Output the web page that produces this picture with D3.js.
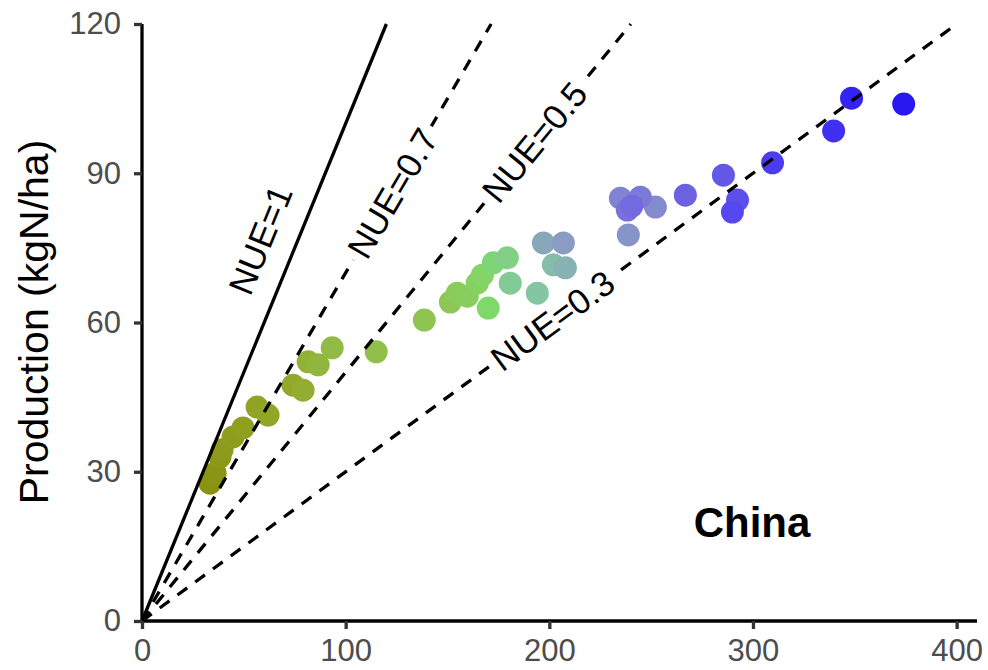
<!DOCTYPE html>
<html>
<head>
<meta charset="utf-8">
<script src="https://cdn.jsdelivr.net/npm/d3@7"></script>
<style>
  body { margin: 0; background: #fff; }
  text { font-family: "Liberation Sans", Arial, sans-serif; }
</style>
</head>
<body>
<script>
//fertilizer input (kgN/ha), roughly in time order
var fert = [33.4, 35.9, 38.3, 39.3, 44.7, 49.6, 56.5, 61.9, 74.2, 79.1, 81.6, 86.5, 93.4,
            115.0, 138.6, 151.4, 154.8, 159.7, 164.6, 167.1, 170.0, 172.5, 179.4, 180.8,
            194.1, 202.0, 207.9, 197.1, 206.9, 238.8, 252.1, 234.9, 244.7, 238.3, 240.5,
            266.8, 285.5, 292.4, 289.9, 309.6, 339.6, 348.4, 374.0];
//production (kgN/ha)
var prod = [27.7, 29.7, 33.0, 34.4, 37.0, 38.8, 43.0, 41.4, 47.4, 46.4, 52.1, 51.5, 54.9,
            54.1, 60.5, 64.1, 65.9, 65.3, 67.9, 69.5, 62.9, 72.0, 73.0, 67.9,
            65.9, 71.6, 71.0, 76.0, 76.0, 77.6, 83.2, 85.0, 85.2, 82.6, 83.4,
            85.6, 89.6, 84.6, 82.2, 92.1, 98.5, 105.1, 103.9];

//NUE reference lines
var nue = [1, 0.7, 0.5, 0.3];
var nueLabels = ["NUE=1", "NUE=0.7", "NUE=0.5", "NUE=0.3"];
var labelAt = [[58, 76.6], [122.9, 86.0], [192.6, 96.3], [201.5, 60.45]];

var xTicks = [0, 100, 200, 300, 400];
var yTicks = [0, 30, 60, 90, 120];

setChart();

function setChart() {

  var width = 988,
      height = 670;

  var svg = d3.select("body")
        .append("svg")
        .attr("width", width)
        .attr("height", height);

  var x = d3.scaleLinear().domain([0, 410]).range([142, 977]);
  var y = d3.scaleLinear().domain([0, 120]).range([621, 24]);

  //colour goes from olive through green and grey to blue over time
  var n = fert.length;
  var color = d3.scaleLinear()
        .domain([0, 8, 14, 20, 24, 28, 33, 38, n - 1])
        .range(["#8a9212", "#92a82a", "#90c452", "#7fd86a", "#84c6a2", "#8a9cc2", "#7a72dc", "#5648ee", "#2a18f2"])
        .interpolate(d3.interpolateRgb);

  //points
  svg.selectAll(".pt")
        .data(fert)
        .enter()
        .append("circle")
        .attr("class", "pt")
        .attr("cx", function(d) { return x(d); })
        .attr("cy", function(d, i) { return y(prod[i]); })
        .attr("r", 11.5)
        .attr("fill", function(d, i) { return color(i); });

  //NUE lines, drawn over the points
  nue.forEach(function(k, i) {
    var xEnd = Math.min(410, 120 / k);
    svg.append("line")
        .attr("x1", x(0))
        .attr("y1", y(0))
        .attr("x2", x(xEnd))
        .attr("y2", y(k * xEnd))
        .attr("stroke", "#000")
        .attr("stroke-width", 3.3)
        .attr("stroke-dasharray", k == 1 ? null : "12,10");

    var ang = -Math.atan(k * (y(0) - y(1)) / (x(1) - x(0))) * 180 / Math.PI;
    var px = x(labelAt[i][0]),
        py = y(labelAt[i][1]);
    var g = svg.append("g")
        .attr("transform", "translate(" + px + "," + py + ") rotate(" + ang + ")");
    var bg = g.append("rect").attr("fill", "#fff");
    var t = g.append("text")
        .attr("text-anchor", "middle")
        .attr("dy", "0.36em")
        .attr("font-size", 35)
        .attr("fill", "#000")
        .text(nueLabels[i]);
    //dashed lines are broken where the label sits on them
    if (k != 1) {
      var len = t.node().getComputedTextLength() + 12;
      bg.attr("x", -len / 2).attr("y", -16).attr("width", len).attr("height", 32);
    }
  });

  //axes
  var xAxis = svg.append("g")
        .attr("transform", "translate(0," + y(0) + ")")
        .call(d3.axisBottom(x).tickValues(xTicks).tickSize(8).tickPadding(10));
  var yAxis = svg.append("g")
        .attr("transform", "translate(" + x(0) + ",0)")
        .call(d3.axisLeft(y).tickValues(yTicks).tickSize(8).tickPadding(13));

  [xAxis, yAxis].forEach(function(g) {
    g.select(".domain").attr("stroke", "#000").attr("stroke-width", 3.3);
    g.selectAll(".tick line").attr("stroke", "#333").attr("stroke-width", 3.3);
    g.selectAll(".tick text")
        .attr("font-size", 31)
        .attr("font-family", "Liberation Sans, Arial, sans-serif")
        .attr("fill", "#4d4d4d");
  });
  xAxis.select(".domain").attr("d", "M" + x(0) + ",0H" + x(410));
  yAxis.select(".domain").attr("d", "M0," + y(0) + "V" + y(120));

  //axis title
  svg.append("text")
        .attr("transform", "translate(48,322) rotate(-90)")
        .attr("text-anchor", "middle")
        .attr("font-size", 41)
        .attr("fill", "#000")
        .text("Production (kgN/ha)");

  //region label
  svg.append("text")
        .attr("x", 752)
        .attr("y", 537)
        .attr("text-anchor", "middle")
        .attr("font-size", 42)
        .attr("font-weight", "bold")
        .attr("fill", "#000")
        .text("China");
}
</script>
</body>
</html>
